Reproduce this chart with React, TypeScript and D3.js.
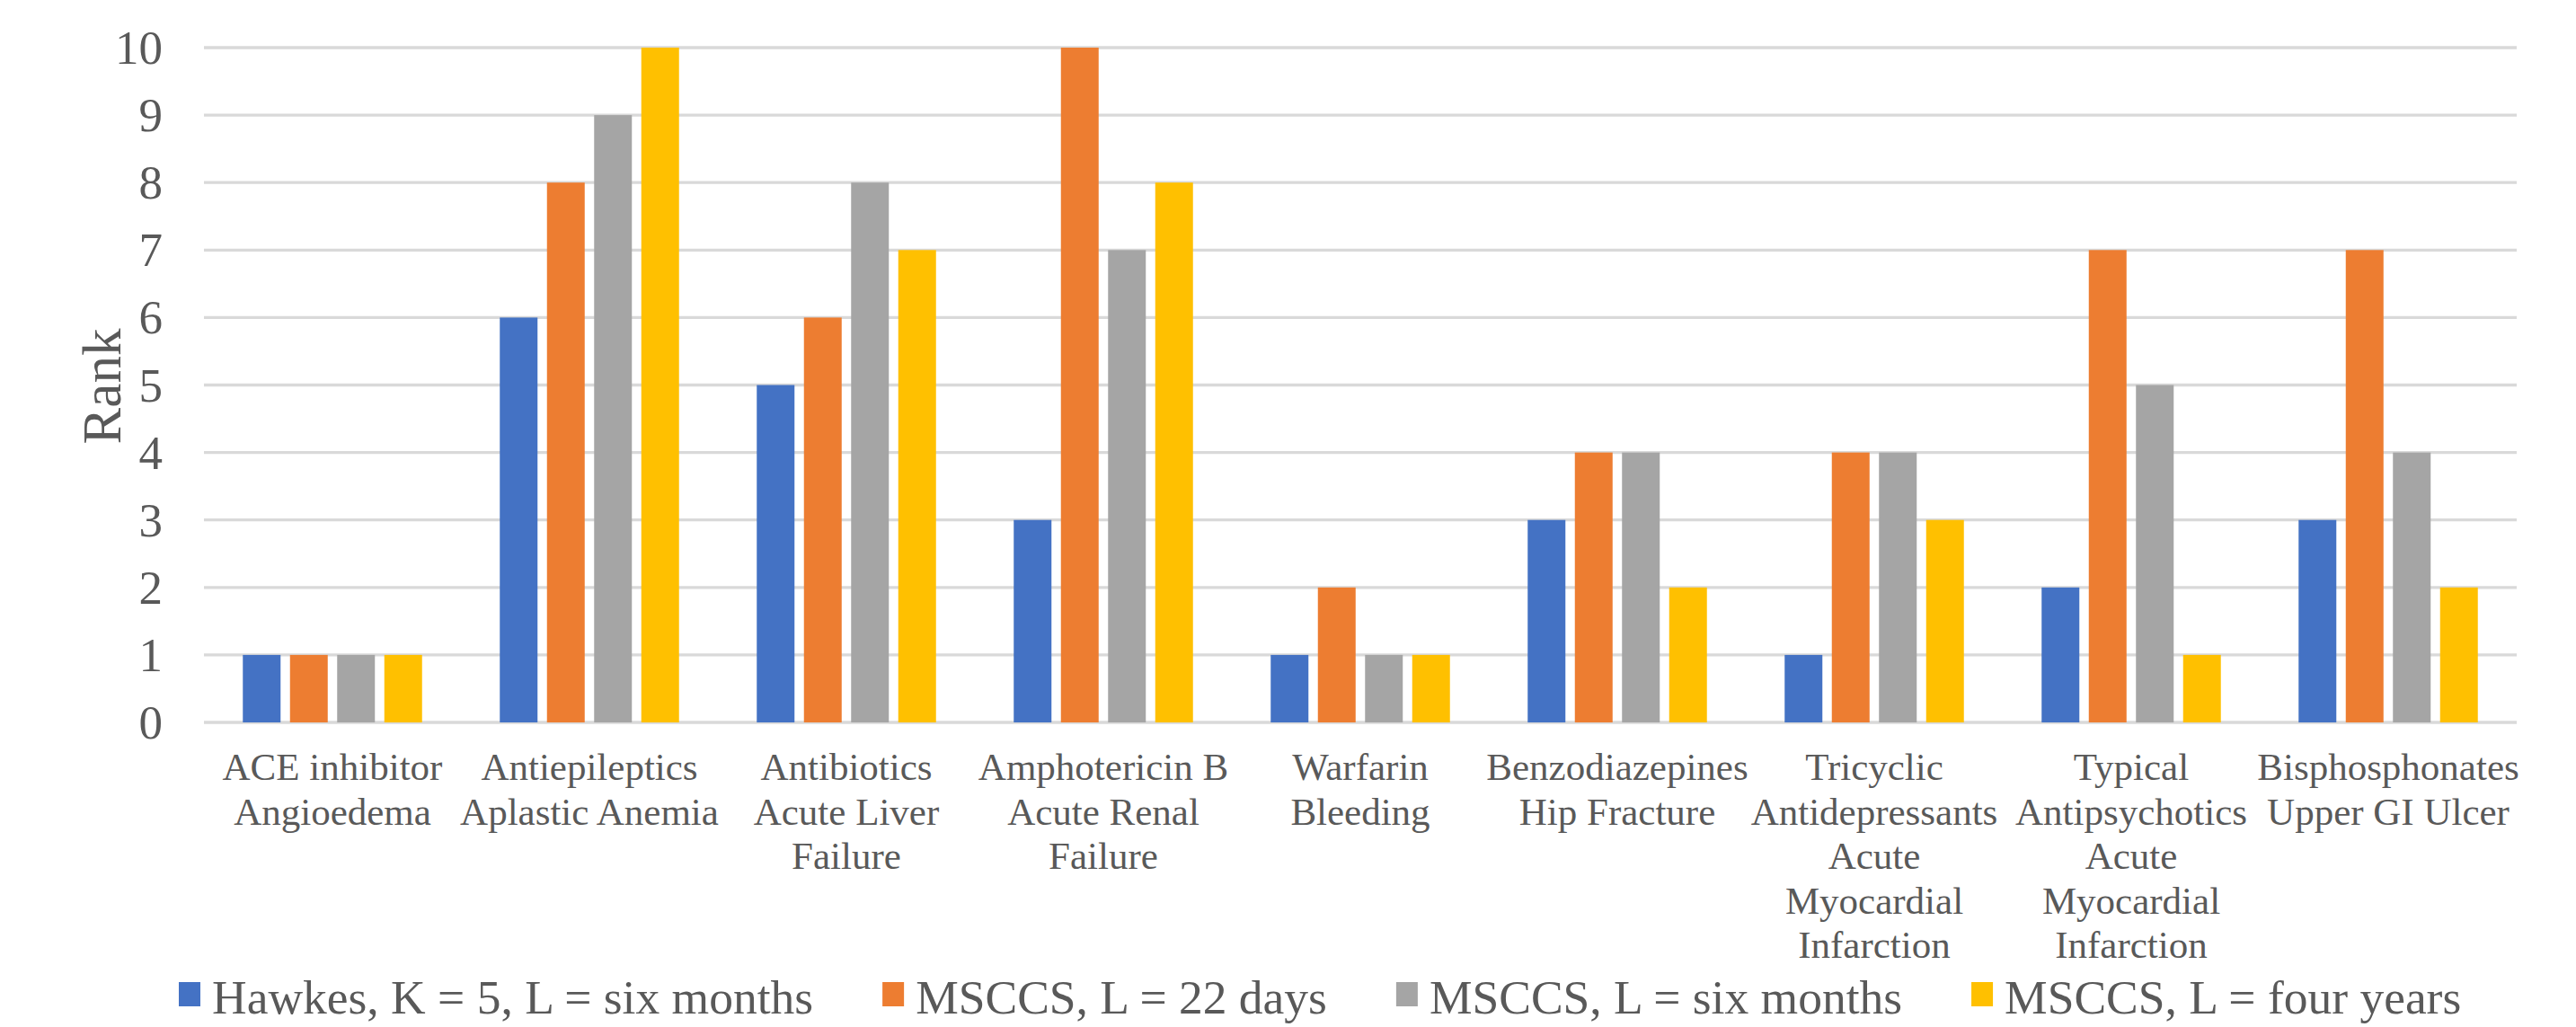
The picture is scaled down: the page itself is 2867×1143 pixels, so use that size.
import React, { useEffect, useRef } from "react";
import * as d3 from "d3";

const categories: string[] = [
  "ACE inhibitor\nAngioedema",
  "Antiepileptics\nAplastic Anemia",
  "Antibiotics\nAcute Liver\nFailure",
  "Amphotericin B\nAcute Renal\nFailure",
  "Warfarin\nBleeding",
  "Benzodiazepines\nHip Fracture",
  "Tricyclic\nAntidepressants\nAcute\nMyocardial\nInfarction",
  "Typical\nAntipsychotics\nAcute\nMyocardial\nInfarction",
  "Bisphosphonates\nUpper GI Ulcer",
];

const seriesNames: string[] = [
  "Hawkes, K = 5, L = six months",
  "MSCCS, L = 22 days",
  "MSCCS, L = six months",
  "MSCCS, L = four years",
];

const hawkes: number[] = [1, 6, 5, 3, 1, 3, 1, 2, 3];
const msccs22days: number[] = [1, 8, 6, 10, 2, 4, 4, 7, 7];
const msccsSixMonths: number[] = [1, 9, 8, 7, 1, 4, 4, 5, 4];
const msccsFourYears: number[] = [1, 10, 7, 8, 1, 2, 3, 1, 2];

const seriesColors: string[] = ["#4472C4", "#ED7D31", "#A5A5A5", "#FFC000"];
const yTicks: number[] = [0, 1, 2, 3, 4, 5, 6, 7, 8, 9, 10];

const W = 2867;
const H = 1143;
const FONT = '"Liberation Serif", "Times New Roman", Times, "DejaVu Serif", serif';
const TEXT = "#595959";

export default function App() {
  const ref = useRef<SVGSVGElement | null>(null);

  useEffect(() => {
    document.body.style.margin = "0";
    const svg = d3.select(ref.current);
    svg.selectAll("*").remove();

    const values = [hawkes, msccs22days, msccsSixMonths, msccsFourYears];
    const left = 227, right = 2801, top = 53, bottom = 804;

    const x0 = d3.scaleBand<number>().domain(d3.range(categories.length)).range([left, right]).padding(0);
    const groupW = x0.bandwidth() * 0.6975;
    const x1 = d3.scaleBand<number>().domain(d3.range(4)).range([0, groupW]).paddingInner(0.2).paddingOuter(0);
    const y = d3.scaleLinear().domain([0, 10]).range([bottom, top]);

    // gridlines
    svg.append("g").selectAll("line").data(yTicks).join("line")
      .attr("x1", left).attr("x2", right)
      .attr("y1", (d) => y(d)).attr("y2", (d) => y(d))
      .attr("stroke", "#d9d9d9").attr("stroke-width", 3.3);

    // y tick labels
    svg.append("g").selectAll("text").data(yTicks).join("text")
      .attr("x", 181).attr("y", (d) => y(d) + 18)
      .attr("text-anchor", "end")
      .style("font-family", FONT).style("font-size", "53px").attr("fill", TEXT)
      .text((d) => String(d));

    // y axis title
    svg.append("text")
      .attr("transform", `translate(${134},${430}) rotate(-90)`)
      .attr("text-anchor", "middle")
      .style("font-family", FONT).style("font-size", "61px").attr("fill", TEXT)
      .text("Rank");

    // bars
    const groups = svg.append("g").selectAll("g").data(categories.map((_, i) => i)).join("g")
      .attr("transform", (i) => `translate(${(x0(i) as number) + (x0.bandwidth() - groupW) / 2},0)`);
    groups.selectAll("rect").data((i) => values.map((s, k) => ({ k, v: s[i] }))).join("rect")
      .attr("x", (d) => x1(d.k) as number)
      .attr("width", x1.bandwidth())
      .attr("y", (d) => y(d.v))
      .attr("height", (d) => y(0) - y(d.v))
      .attr("fill", (d) => seriesColors[d.k]);

    // category labels
    const cat = svg.append("g").selectAll("text").data(categories).join("text")
      .attr("x", (_, i) => (x0(i) as number) + x0.bandwidth() / 2)
      .attr("y", 868)
      .attr("text-anchor", "middle")
      .style("font-family", FONT).style("font-size", "43px").attr("fill", TEXT);
    cat.each(function (d) {
      const t = d3.select(this);
      const xx = t.attr("x");
      d.split("\n").forEach((line, li) => {
        t.append("tspan").attr("x", xx).attr("dy", li === 0 ? 0 : 49.5).text(line);
      });
    });

    // legend
    const leg = svg.append("g");
    const sq = 24, gapText = 13, gapItem = 77;
    let cx = 199;
    seriesNames.forEach((name, k) => {
      const g = leg.append("g").attr("transform", `translate(${cx},0)`);
      g.append("rect").attr("width", sq).attr("height", 27).attr("y", 1093).attr("fill", seriesColors[k]);
      const tx = g.append("text").attr("x", sq + gapText).attr("y", 1128)
        .style("font-family", FONT).style("font-size", "53.5px").attr("fill", TEXT).text(name);
      const w = (tx.node() as SVGTextElement).getComputedTextLength();
      cx += sq + gapText + w + gapItem;
    });
  }, []);

  return (
    <svg ref={ref} width={W} height={H} style={{ display: "block", background: "#fff" }} />
  );
}
